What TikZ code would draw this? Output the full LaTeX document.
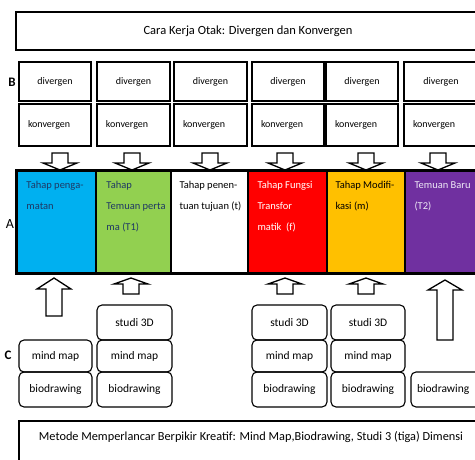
\documentclass[tikz,border=0pt]{standalone}
\usepackage{fontspec}
\setmainfont{Carlito}
\usetikzlibrary{positioning,calc}

\definecolor{tblue}{HTML}{00B0F0}
\definecolor{tgreen}{HTML}{92D050}
\definecolor{tred}{HTML}{FF0000}
\definecolor{torange}{HTML}{FFC000}
\definecolor{tpurple}{HTML}{7030A0}
\definecolor{navy}{HTML}{1F3864}
\definecolor{lilac}{HTML}{EEE8F6}

\tikzset{
  pics/blkarrow/.style 2 args={code={
    \draw[line width=1.3pt, fill=white] (0,0) -- (-17,#2) -- (-8,#2) -- (-8,#1)
      -- (8,#1) -- (8,#2) -- (17,#2) -- cycle;
  }}
}

\begin{document}
\begin{tikzpicture}[x=1pt, y=-1pt,
         framebox/.style = {draw, line width=1.2pt},
         bbox/.style     = {draw, line width=1.2pt, inner sep=0pt, minimum height=39pt,
                            font=\fontsize{10}{12}\selectfont},
         kbox/.style     = {bbox, minimum height=42pt, align=left, inner xsep=9pt},
         stage/.style    = {draw, line width=1.4pt, inner sep=0pt, minimum height=102pt},
         stagetxt/.style = {anchor=north west, inner sep=0pt, align=left,
                            font=\fontsize{10.5}{21}\selectfont},
         cbox/.style     = {draw, line width=1.1pt, rounded corners=5pt, inner sep=0pt,
                            font=\fontsize{11.5}{13}\selectfont},
         rowlabel/.style = {font=\fontsize{14}{16}\selectfont}
]
   \useasboundingbox (0,0) rectangle (475,459);

   % title
   \node[framebox, minimum width=464pt, minimum height=38pt, inner sep=0pt,
         font=\fontsize{12.5}{14}\selectfont] (title) at (248,31)
         {Cara Kerja Otak: Divergen dan Konvergen};

   % B: divergen / konvergen
   \node[rowlabel, font=\bfseries\fontsize{13}{15}\selectfont] (labB) at (12,82) {B};
   \foreach \i/\l/\r in {1/19/91, 2/97/170, 3/174/247, 4/252/324, 5/326/398, 6/404/478}{
      \node[bbox, minimum width={(\r-\l)*1pt}] (d\i) at ({(\l+\r)/2},81.5) {divergen};
      \node[kbox, text width={(\r-\l-18)*1pt}] (k\i)
            at ({(\l+\r)/2},125) {konvergen};
   }

   % down arrows B -> A
   \foreach \x in {60,132,210,285,366,438}{
      \pic[rotate=180] at (\x,170) {blkarrow={17}{7}};
   }

   % A: stages
   \node[rowlabel] (labA) at (10,224) {A};
   \node[stage, fill=tblue,   minimum width=79pt] (a1) at (56.5,222) {};
   \node[stage, fill=tgreen,  minimum width=75pt] (a2) at (133.5,222) {};
   \node[stage, fill=white,   minimum width=77pt] (a3) at (209.5,222) {};
   \node[stage, fill=tred,    minimum width=79pt] (a4) at (287.5,222) {};
   \node[stage, fill=torange, minimum width=78pt] (a5) at (366,222) {};
   \node[stage, fill=tpurple, minimum width=75pt] (a6) at (442.5,222) {};
   \draw[line width=2pt] (a1.north west) rectangle (a6.south east);

   \node[stagetxt, text=navy]  (t1) at ($(a1.north west)+(10,11)$) {Tahap penga-\\matan};
   \node[stagetxt, text=navy]  (t2) at ($(a2.north west)+(11,11)$) {Tahap\\Temuan perta\\ma (T1)};
   \node[stagetxt, text=black] (t3) at ($(a3.north west)+(9,11)$)  {Tahap penen-\\tuan tujuan (t)};
   \node[stagetxt, text=white] (t4) at ($(a4.north west)+(10,11)$) {Tahap Fungsi\\Transfor\\matik~~(f)};
   \node[stagetxt, text=black] (t5) at ($(a5.north west)+(9,11)$)  {Tahap Modifi-\\kasi (m)};
   \node[stagetxt, text=lilac] (t6) at ($(a6.north west)+(10,11)$) {Temuan Baru\\(T2)};

   % up arrows C -> A
   \pic at (54,278)  {blkarrow={38}{11}};
   \pic at (131,278) {blkarrow={16}{6}};
   \pic at (285,278) {blkarrow={16}{6}};
   \pic at (366,278) {blkarrow={16}{6}};
   \pic at (445,280) {blkarrow={60}{10}};

   % C: methods
   \node[rowlabel, font=\bfseries\fontsize{13}{15}\selectfont] (labC) at (8,355) {C};

   \node[cbox, minimum width=73pt, minimum height=32pt] (m1) at (55.5,356) {mind map};
   \node[cbox, minimum width=73pt, minimum height=35pt] (b1) at (55.5,389.5) {biodrawing};

   \node[cbox, minimum width=75pt, minimum height=35pt] (s2) at (134.5,322.5) {studi 3D};
   \node[cbox, minimum width=75pt, minimum height=32pt] (m2) at (134.5,356) {mind map};
   \node[cbox, minimum width=75pt, minimum height=35pt] (b2) at (134.5,389.5) {biodrawing};

   \node[cbox, minimum width=75pt, minimum height=35pt] (s4) at (289.5,322.5) {studi 3D};
   \node[cbox, minimum width=75pt, minimum height=32pt] (m4) at (289.5,356) {mind map};
   \node[cbox, minimum width=75pt, minimum height=35pt] (b4) at (289.5,389.5) {biodrawing};

   \node[cbox, minimum width=74pt, minimum height=35pt] (s5) at (368,322.5) {studi 3D};
   \node[cbox, minimum width=74pt, minimum height=32pt] (m5) at (368,356) {mind map};
   \node[cbox, minimum width=74pt, minimum height=35pt] (b5) at (368,389.5) {biodrawing};

   \node[cbox, minimum width=74pt, minimum height=35pt, text width=62pt, align=left,
         inner xsep=6pt] (b6) at (448,389.5) {biodrawing};

   % bottom caption
   \draw[framebox] (19,421) rectangle (482,470);
   \node[font=\fontsize{12.3}{14}\selectfont] (metode) at (251,437)
         {Metode Memperlancar Berpikir Kreatif: Mind Map,Biodrawing, Studi 3 (tiga) Dimensi};
\end{tikzpicture}
\end{document}
